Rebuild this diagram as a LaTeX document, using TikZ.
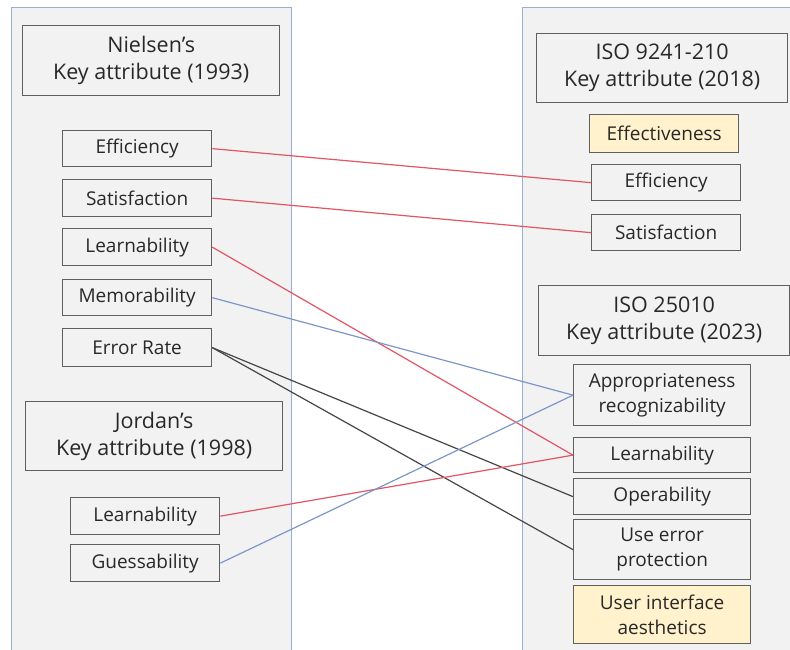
\documentclass[tikz,border=0pt]{standalone}
\usepackage{fontspec}
\setmainfont{Open Sans}
\definecolor{panelfill}{RGB}{242,242,242}
\definecolor{panelline}{RGB}{150,175,210}
\definecolor{boxline}{RGB}{95,95,95}
\definecolor{txt}{RGB}{40,40,40}
\definecolor{hilite}{RGB}{255,242,204}
\definecolor{linkred}{RGB}{225,85,100}
\definecolor{linkblue}{RGB}{125,150,200}
\definecolor{linkgray}{RGB}{70,70,70}
\tikzset{
  panel/.style={fill=panelfill, draw=panelline, line width=1pt},
  titlebox/.style={draw=boxline, fill=panelfill, line width=1.3pt, anchor=north west,
    align=center, text=txt, font=\fontsize{21.5}{27}\selectfont, inner sep=0pt},
  itembox/.style={draw=boxline, fill=panelfill, line width=1.3pt, anchor=north west,
    align=center, text=txt, font=\fontsize{19}{25}\selectfont, inner sep=0pt},
  newitem/.style={itembox, fill=hilite},
  redlink/.style={draw=linkred, line width=1.2pt},
  bluelink/.style={draw=linkblue, line width=1.2pt},
  graylink/.style={draw=linkgray, line width=1.2pt},
}
\begin{document}
\begin{tikzpicture}[x=1pt, y=-1pt]
\useasboundingbox (0,0) rectangle (790,650);
\clip (0,0) rectangle (790,650);
\fill[white] (0,0) rectangle (790,650);

% two columns
\draw[panel] (11,8) rectangle (291,660);
\draw[panel] (522,8) rectangle (800,660);

% left column: Nielsen and Jordan
\node[titlebox, minimum width=257pt, minimum height=70pt] (nielsen) at (22,25)
  {Nielsen’s\\Key attribute (1993)};
\node[itembox, minimum width=149pt, minimum height=36pt] (nEff) at (62,130) {Efficiency};
\node[itembox, minimum width=149pt, minimum height=37pt] (nSat) at (62,179) {Satisfaction};
\node[itembox, minimum width=149pt, minimum height=37pt] (nLearn) at (62,228) {Learnability};
\node[itembox, minimum width=149pt, minimum height=36pt] (nMem) at (62,279) {Memorability};
\node[itembox, minimum width=149pt, minimum height=38pt] (nErr) at (62,328) {Error Rate};

\node[titlebox, minimum width=257pt, minimum height=69pt] (jordan) at (25,401)
  {Jordan’s\\Key attribute (1998)};
\node[itembox, minimum width=149pt, minimum height=37pt] (jLearn) at (70,497) {Learnability};
\node[itembox, minimum width=149pt, minimum height=37pt] (jGuess) at (70,544) {Guessability};

% right column: ISO 9241-210 and ISO 25010
\node[titlebox, minimum width=251pt, minimum height=69pt] (iso9241) at (536,33)
  {ISO 9241-210\\Key attribute (2018)};
\node[newitem, minimum width=149pt, minimum height=38pt] (iEffect) at (589,114) {Effectiveness};
\node[itembox, minimum width=149pt, minimum height=36pt] (iEff) at (591,164) {Efficiency};
\node[itembox, minimum width=149pt, minimum height=36pt] (iSat) at (591,214) {Satisfaction};

\node[titlebox, minimum width=251pt, minimum height=70pt] (iso25010) at (538,285)
  {ISO 25010\\Key attribute (2023)};
\node[itembox, minimum width=177pt, minimum height=61pt] (iAppr) at (573,364)
  {Appropriateness\\recognizability};
\node[itembox, minimum width=177pt, minimum height=35pt] (iLearn) at (573,437) {Learnability};
\node[itembox, minimum width=177pt, minimum height=36pt] (iOper) at (573,478) {Operability};
\node[itembox, minimum width=177pt, minimum height=60pt] (iProt) at (573,519)
  {Use error\\protection};
\node[newitem, minimum width=177pt, minimum height=58pt] (iAesth) at (573,585)
  {User interface\\aesthetics};

% mappings between the attribute sets
\draw[redlink] (nEff.east) -- (iEff.west);
\draw[redlink] (nSat.east) -- (iSat.west);
\draw[redlink] (nLearn.east) -- (iLearn.west);
\draw[bluelink] (nMem.east) -- (iAppr.west);
\draw[graylink] (nErr.east) -- (iOper.west);
\draw[graylink] (nErr.east) -- (iProt.west);
\draw[redlink] (jLearn.east) -- (iLearn.west);
\draw[bluelink] (jGuess.east) -- (iAppr.west);
\end{tikzpicture}
\end{document}
